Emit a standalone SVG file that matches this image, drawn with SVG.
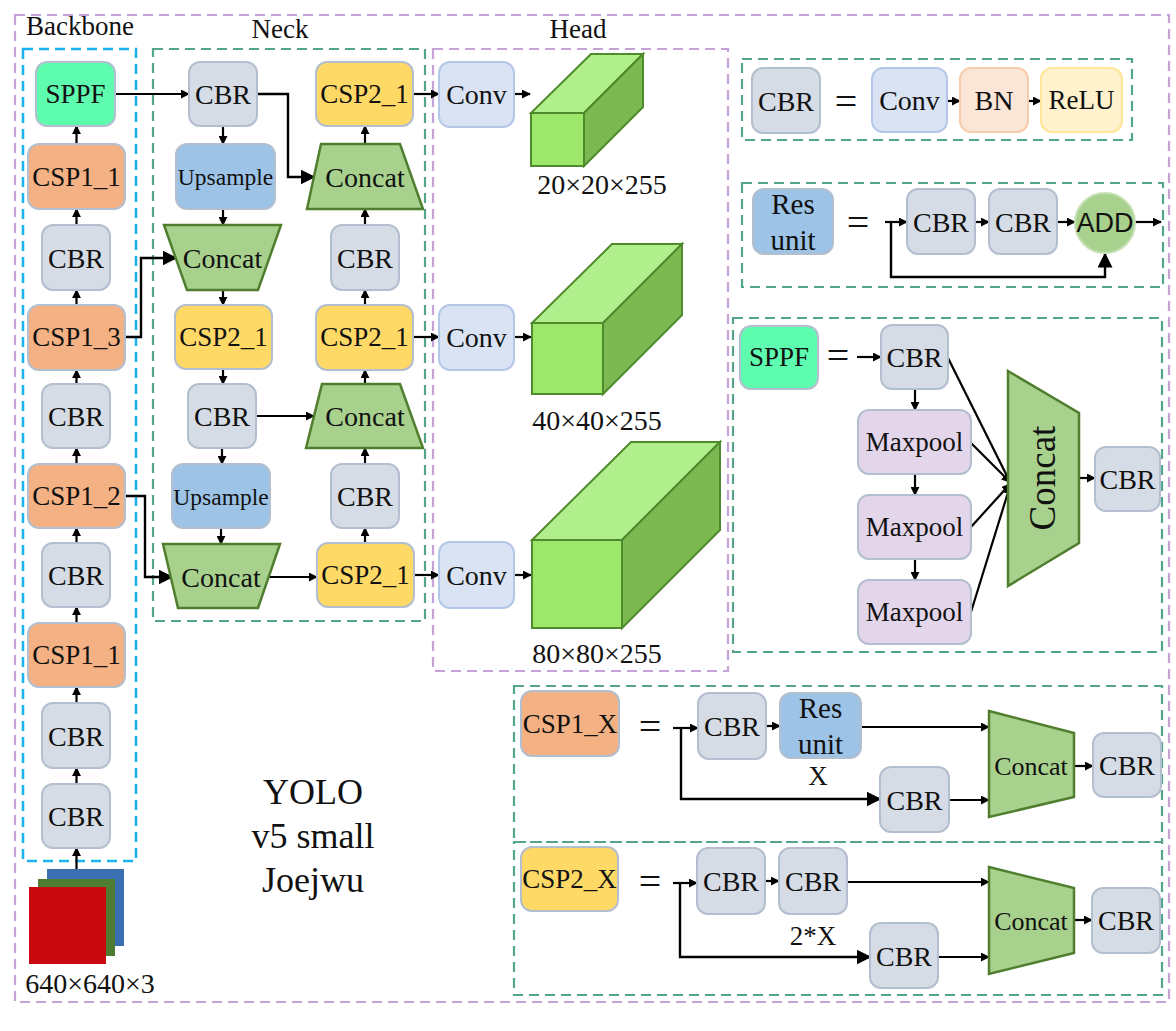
<svg xmlns="http://www.w3.org/2000/svg" width="1176" height="1031" viewBox="0 0 1176 1031">
<defs>
<style>
.t{font-family:"Liberation Serif","Times New Roman",serif;font-size:28px;fill:#111;text-anchor:middle;dominant-baseline:central}
.s{font-size:27px}
.lbl{font-family:"Liberation Serif","Times New Roman",serif;font-size:27px;fill:#111;text-anchor:middle}
.big{font-size:28px}
.n{stroke-width:2}
.cbr{fill:#d6dce5;stroke:#b3bfcf}
.csp1{fill:#f4b183;stroke:#b3bfcf}
.csp2{fill:#ffd966;stroke:#b3bfcf}
.sppf{fill:#5efcaf;stroke:#b3bfcf}
.ups{fill:#9dc3e6;stroke:#b3bfcf}
.conv{fill:#dae3f3;stroke:#b4c7e7}
.bn{fill:#fbe5d6;stroke:#f8cbad}
.relu{fill:#fff2cc;stroke:#ffe699}
.mp{fill:#e3d6ea;stroke:#b3bfcf}
.cat{fill:#a9d18e;stroke:#4f7f2e;stroke-width:2.5}
.ca{fill:none;stroke:#000;stroke-width:2.2;marker-end:url(#ah)}
.cb{fill:none;stroke:#000;stroke-width:2.4;marker-end:url(#ahb)}
.dp{fill:none;stroke:#c5a3d8;stroke-width:2.2;stroke-dasharray:10 6}
.db{fill:none;stroke:#1ab2ee;stroke-width:2.5;stroke-dasharray:10 6}
.dg{fill:none;stroke:#53a58d;stroke-width:2.2;stroke-dasharray:10 6}
.cf{fill:#9de76b;stroke:#4f8a2c;stroke-width:2}
.ct{fill:#b1ef8d;stroke:#4f8a2c;stroke-width:2}
.cr{fill:#7cba51;stroke:#4f8a2c;stroke-width:2}
</style>
<marker id="ah" viewBox="0 0 10 10" refX="9" refY="5" markerWidth="9" markerHeight="9" markerUnits="userSpaceOnUse" orient="auto"><path d="M0,0L10,5L0,10z" fill="#000"/></marker>
<marker id="ahb" viewBox="0 0 10 10" refX="9" refY="5" markerWidth="15" markerHeight="15" markerUnits="userSpaceOnUse" orient="auto"><path d="M0,0L10,5L0,10z" fill="#000"/></marker>
</defs>
<rect width="1176" height="1031" fill="#fff"/>

<g id="frames">
<rect class="dp" x="15" y="15" width="1154" height="987"/>
<rect class="db" x="23" y="49" width="113" height="812"/>
<rect class="dg" x="153" y="49" width="272" height="572"/>
<rect class="dp" x="433" y="49" width="295" height="622"/>
<rect class="dg" x="742" y="59" width="390" height="81"/>
<rect class="dg" x="742" y="183" width="421" height="104"/>
<rect class="dg" x="733" y="318" width="429" height="334"/>
<rect class="dg" x="514" y="686" width="648" height="156"/>
<rect class="dg" x="514" y="842" width="648" height="153"/>
<text class="lbl" x="80" y="35">Backbone</text>
<text class="lbl" x="280" y="38">Neck</text>
<text class="lbl" x="578" y="38">Head</text>
</g>

<g id="connectors">
<path class="ca" d="M76.5,144V126"/>
<path class="ca" d="M76.5,225V209"/>
<path class="ca" d="M76.5,305V290"/>
<path class="ca" d="M76.5,384V370"/>
<path class="ca" d="M76.5,464V448"/>
<path class="ca" d="M76.5,543V528"/>
<path class="ca" d="M76.5,623V607"/>
<path class="ca" d="M76.5,703V687"/>
<path class="ca" d="M76.5,784V768"/>
<path class="ca" d="M76.5,869V848"/>
<path class="ca" d="M115,94H189"/>
<path class="ca" d="M223,126V144"/>
<path class="cb" d="M257,94H288V177H314"/>
<path class="ca" d="M223,209V225"/>
<path class="cb" d="M125,337H141V258H176"/>
<path class="ca" d="M223,290V305"/>
<path class="ca" d="M223,369V384"/>
<path class="ca" d="M256,416H314"/>
<path class="ca" d="M222,448V464"/>
<path class="ca" d="M221,528V544"/>
<path class="cb" d="M125,496H145V577H172"/>
<path class="ca" d="M268,577H317"/>
<path class="ca" d="M365,543V528"/>
<path class="ca" d="M365,464V448"/>
<path class="ca" d="M365,384V370"/>
<path class="ca" d="M365,305V290"/>
<path class="ca" d="M365,225V209"/>
<path class="ca" d="M365,144V126"/>
<path class="ca" d="M413,94H439"/>
<path class="ca" d="M413,337H439"/>
<path class="ca" d="M413,575H439"/>
<path class="ca" d="M514,94H530"/>
<path class="ca" d="M514,337H531"/>
<path class="ca" d="M514,575H531"/>
<path class="ca" d="M947,101H960"/>
<path class="ca" d="M1028,101H1041"/>
<path class="ca" d="M885,222H907"/>
<path class="cb" d="M891,222V277H1105V254"/>
<path class="ca" d="M975,222H989"/>
<path class="ca" d="M1057,222H1075"/>
<path class="ca" d="M1135,222H1161"/>
<path class="ca" d="M857,357H881"/>
<path class="ca" d="M915,389V410"/>
<path class="ca" d="M915,474V495"/>
<path class="ca" d="M915,559V580"/>
<path class="ca" d="M948,358L1010,482"/>
<path class="ca" d="M971,443L1010,482"/>
<path class="ca" d="M971,527L1010,484"/>
<path class="ca" d="M971,612L1010,486"/>
<path class="ca" d="M1079,478H1095"/>
<path class="ca" d="M673,728H698"/>
<path class="cb" d="M681,728V799H880"/>
<path class="ca" d="M766,726H780"/>
<path class="ca" d="M861,727H989"/>
<path class="ca" d="M949,800H989"/>
<path class="ca" d="M1074,766H1093"/>
<path class="ca" d="M673,883H697"/>
<path class="cb" d="M680,883V957H870"/>
<path class="ca" d="M765,881H779"/>
<path class="ca" d="M848,882H989"/>
<path class="ca" d="M938,957H989"/>
<path class="ca" d="M1074,920H1092"/>
</g>

<g id="bb-sppf"><rect class="n sppf" x="36" y="62" width="79" height="64" rx="11"/><text class="t s" x="75.5" y="94">SPPF</text></g>
<g id="bb-csp1-1a"><rect class="n csp1" x="28" y="144" width="97" height="65" rx="11"/><text class="t s" x="76.5" y="177">CSP1_1</text></g>
<g id="bb-cbr1"><rect class="n cbr" x="42" y="225" width="68" height="65" rx="11"/><text class="t" x="76" y="258">CBR</text></g>
<g id="bb-csp1-3"><rect class="n csp1" x="28" y="305" width="97" height="65" rx="11"/><text class="t s" x="76.5" y="337">CSP1_3</text></g>
<g id="bb-cbr2"><rect class="n cbr" x="42" y="384" width="68" height="64" rx="11"/><text class="t" x="76" y="416">CBR</text></g>
<g id="bb-csp1-2"><rect class="n csp1" x="28" y="464" width="97" height="64" rx="11"/><text class="t s" x="76.5" y="496">CSP1_2</text></g>
<g id="bb-cbr3"><rect class="n cbr" x="42" y="543" width="68" height="64" rx="11"/><text class="t" x="76" y="575">CBR</text></g>
<g id="bb-csp1-1b"><rect class="n csp1" x="28" y="623" width="97" height="64" rx="11"/><text class="t s" x="76.5" y="655">CSP1_1</text></g>
<g id="bb-cbr4"><rect class="n cbr" x="42" y="703" width="68" height="65" rx="11"/><text class="t" x="76" y="736">CBR</text></g>
<g id="bb-cbr5"><rect class="n cbr" x="42" y="784" width="68" height="64" rx="11"/><text class="t" x="76" y="816">CBR</text></g>
<g id="input">
<rect x="47" y="869" width="77" height="77" fill="#3a70b2"/>
<rect x="38" y="879" width="77" height="77" fill="#4e7c30"/>
<rect x="29" y="887" width="77" height="77" fill="#c8090f"/>
<text class="lbl big" x="90" y="993">640×640×3</text>
</g>

<g id="nk-cbr1"><rect class="n cbr" x="189" y="62" width="68" height="64" rx="11"/><text class="t" x="223" y="94">CBR</text></g>
<g id="nk-ups1"><rect class="n ups" x="176" y="144" width="99" height="65" rx="11"/><text class="t" x="225.5" y="177" style="font-size:23.5px">Upsample</text></g>
<g id="nk-cat1"><polygon class="cat" points="164,225 281,225 258,290 187,290"/><text class="t" x="222.5" y="258">Concat</text></g>
<g id="nk-csp2-a"><rect class="n csp2" x="175" y="305" width="97" height="64" rx="11"/><text class="t s" x="223.5" y="337">CSP2_1</text></g>
<g id="nk-cbr2"><rect class="n cbr" x="188" y="384" width="68" height="64" rx="11"/><text class="t" x="222" y="416">CBR</text></g>
<g id="nk-ups2"><rect class="n ups" x="172" y="464" width="98" height="64" rx="11"/><text class="t" x="221" y="497" style="font-size:23.5px">Upsample</text></g>
<g id="nk-cat2"><polygon class="cat" points="163,544 280,544 258,608 178,608"/><text class="t" x="221" y="577">Concat</text></g>
<g id="nk-csp2-top"><rect class="n csp2" x="316" y="62" width="97" height="64" rx="11"/><text class="t s" x="364.5" y="94">CSP2_1</text></g>
<g id="nk-cat3"><polygon class="cat" points="321,144 400,144 423,209 307,209"/><text class="t" x="365" y="177">Concat</text></g>
<g id="nk-cbr3"><rect class="n cbr" x="331" y="225" width="68" height="65" rx="11"/><text class="t" x="365" y="258">CBR</text></g>
<g id="nk-csp2-mid"><rect class="n csp2" x="316" y="305" width="97" height="65" rx="11"/><text class="t s" x="364.5" y="337">CSP2_1</text></g>
<g id="nk-cat4"><polygon class="cat" points="322,384 400,384 423,448 306,448"/><text class="t" x="365" y="416">Concat</text></g>
<g id="nk-cbr4"><rect class="n cbr" x="331" y="464" width="68" height="64" rx="11"/><text class="t" x="365" y="496">CBR</text></g>
<g id="nk-csp2-bot"><rect class="n csp2" x="317" y="543" width="97" height="64" rx="11"/><text class="t s" x="365.5" y="575">CSP2_1</text></g>

<g id="hd-conv1"><rect class="n conv" x="439" y="62" width="75" height="65" rx="11"/><text class="t" x="476.5" y="94">Conv</text></g>
<g id="hd-conv2"><rect class="n conv" x="439" y="305" width="75" height="65" rx="11"/><text class="t" x="476.5" y="337">Conv</text></g>
<g id="hd-conv3"><rect class="n conv" x="439" y="542" width="75" height="66" rx="11"/><text class="t" x="476.5" y="575">Conv</text></g>
<g id="hd-out1">
<polygon class="ct" points="531,113 584,113 643,54 591,54"/>
<polygon class="cr" points="584,113 643,54 643,107 584,166"/>
<rect class="cf" x="531" y="113" width="53" height="53"/>
<text class="lbl big" x="602" y="194">20×20×255</text>
</g>
<g id="hd-out2">
<polygon class="ct" points="532,323 603,323 682,244 612,244"/>
<polygon class="cr" points="603,323 682,244 682,315 603,394"/>
<rect class="cf" x="532" y="323" width="71" height="71"/>
<text class="lbl big" x="597" y="430">40×40×255</text>
</g>
<g id="hd-out3">
<polygon class="ct" points="532,540 622,540 720,442 631,442"/>
<polygon class="cr" points="622,540 720,442 720,530 622,628"/>
<rect class="cf" x="532" y="540" width="90" height="88"/>
<text class="lbl big" x="597" y="663">80×80×255</text>
</g>

<g id="title">
<text class="lbl" x="313" y="804" style="font-size:36px">YOLO</text>
<text class="lbl" x="313" y="848" style="font-size:36px">v5 small</text>
<text class="lbl" x="313" y="892" style="font-size:36px">Joejwu</text>
</g>

<g id="def-cbr"><rect class="n cbr" x="752" y="68" width="68" height="65" rx="11"/><text class="t" x="786" y="101">CBR</text>
<text class="t" x="846" y="101" style="font-size:40px">=</text></g>
<g id="def-conv"><rect class="n conv" x="872" y="68" width="75" height="64" rx="11"/><text class="t" x="909.5" y="100">Conv</text></g>
<g id="def-bn"><rect class="n bn" x="960" y="68" width="68" height="64" rx="11"/><text class="t" x="994" y="100">BN</text></g>
<g id="def-relu"><rect class="n relu" x="1041" y="68" width="81" height="64" rx="11"/><text class="t s" x="1081.5" y="100">ReLU</text></g>

<g id="def-res"><rect class="n ups" x="753" y="189" width="80" height="65" rx="11"/>
<text class="lbl" x="793" y="214" style="font-size:29px">Res</text><text class="lbl" x="793" y="250" style="font-size:29px">unit</text>
<text class="t" x="858" y="222" style="font-size:40px">=</text></g>
<g id="res-cbr1"><rect class="n cbr" x="907" y="189" width="68" height="65" rx="11"/><text class="t" x="941" y="222">CBR</text></g>
<g id="res-cbr2"><rect class="n cbr" x="989" y="189" width="68" height="65" rx="11"/><text class="t" x="1023" y="222">CBR</text></g>
<g id="res-add"><circle cx="1105" cy="223" r="30" fill="#a9d18e" stroke="#c5e0b4" stroke-width="2"/><text class="t" x="1105" y="223" style="font-family:'Liberation Sans',Arial,sans-serif;font-size:27px">ADD</text></g>

<g id="def-sppf"><rect class="n sppf" x="740" y="326" width="78" height="63" rx="11"/><text class="t s" x="779" y="357">SPPF</text>
<text class="t" x="838" y="355" style="font-size:40px">=</text></g>
<g id="sppf-cbr"><rect class="n cbr" x="881" y="325" width="67" height="64" rx="11"/><text class="t" x="914.5" y="357">CBR</text></g>
<g id="sppf-mp1"><rect class="n mp" x="858" y="410" width="113" height="64" rx="11"/><text class="t s" x="914.5" y="442">Maxpool</text></g>
<g id="sppf-mp2"><rect class="n mp" x="858" y="495" width="113" height="64" rx="11"/><text class="t s" x="914.5" y="527">Maxpool</text></g>
<g id="sppf-mp3"><rect class="n mp" x="858" y="580" width="113" height="64" rx="11"/><text class="t s" x="914.5" y="612">Maxpool</text></g>
<g id="sppf-cat"><polygon class="cat" points="1008,371 1079,413 1079,543 1008,586"/><text class="t" x="1042" y="478" transform="rotate(-90 1042 478)" style="font-size:37px">Concat</text></g>
<g id="sppf-cbr2"><rect class="n cbr" x="1095" y="447" width="65" height="64" rx="11"/><text class="t" x="1127.5" y="479">CBR</text></g>

<g id="def-csp1"><rect class="n csp1" x="521" y="691" width="98" height="65" rx="11"/><text class="t s" x="570" y="724">CSP1_X</text>
<text class="t" x="650" y="726" style="font-size:40px">=</text></g>
<g id="c1-cbr1"><rect class="n cbr" x="698" y="693" width="68" height="66" rx="11"/><text class="t" x="732" y="726">CBR</text></g>
<g id="c1-res"><rect class="n ups" x="780" y="693" width="81" height="65" rx="11"/><text class="lbl" x="820.5" y="718" style="font-size:29px">Res</text><text class="lbl" x="820.5" y="754" style="font-size:29px">unit</text></g>
<text class="lbl" x="818" y="785">X</text>
<g id="c1-cbr2"><rect class="n cbr" x="880" y="767" width="69" height="65" rx="11"/><text class="t" x="914.5" y="800">CBR</text></g>
<g id="c1-cat"><polygon class="cat" points="989,711 1074,733 1074,797 989,817"/><text class="t" x="1031" y="766" style="font-size:26px">Concat</text></g>
<g id="c1-cbr3"><rect class="n cbr" x="1093" y="733" width="68" height="64" rx="11"/><text class="t" x="1127" y="765">CBR</text></g>

<g id="def-csp2"><rect class="n csp2" x="521" y="847" width="97" height="64" rx="11"/><text class="t s" x="569.5" y="879">CSP2_X</text>
<text class="t" x="650" y="881" style="font-size:40px">=</text></g>
<g id="c2-cbr1"><rect class="n cbr" x="697" y="848" width="68" height="66" rx="11"/><text class="t" x="731" y="881">CBR</text></g>
<g id="c2-cbr2"><rect class="n cbr" x="779" y="848" width="68" height="66" rx="11"/><text class="t" x="813" y="881">CBR</text></g>
<text class="lbl" x="813" y="945">2*X</text>
<g id="c2-cbr3"><rect class="n cbr" x="870" y="923" width="68" height="65" rx="11"/><text class="t" x="904" y="956">CBR</text></g>
<g id="c2-cat"><polygon class="cat" points="989,867 1074,888 1074,953 989,974"/><text class="t" x="1031" y="921" style="font-size:26px">Concat</text></g>
<g id="c2-cbr4"><rect class="n cbr" x="1092" y="888" width="68" height="65" rx="11"/><text class="t" x="1126" y="920">CBR</text></g>
</svg>
